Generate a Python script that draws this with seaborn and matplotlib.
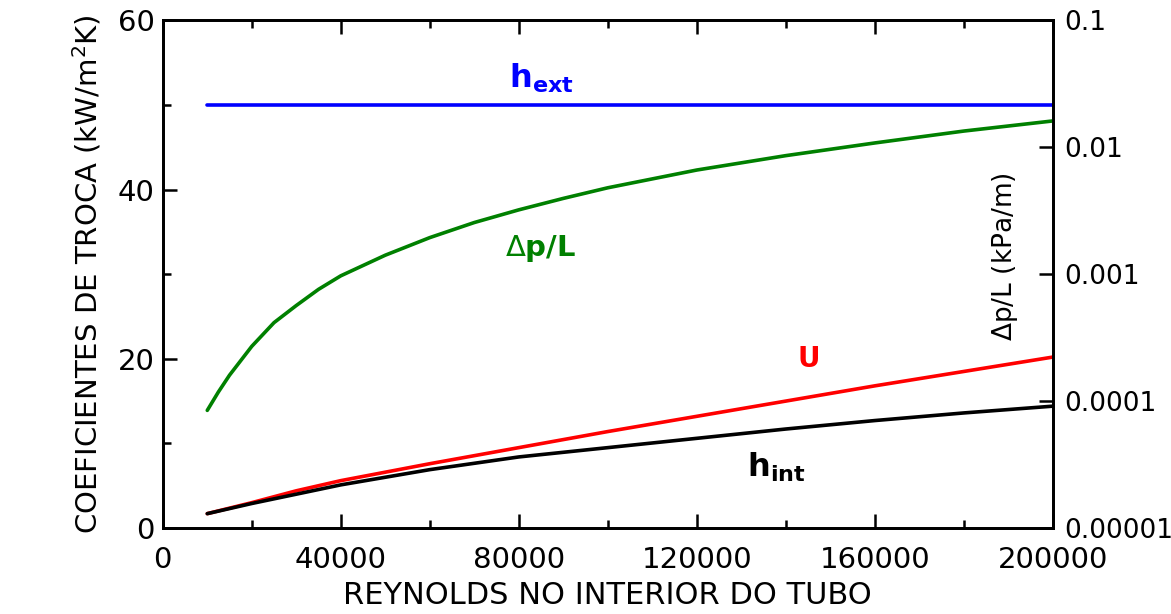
import numpy as np
import pandas as pd
import matplotlib
matplotlib.use("Agg")
import matplotlib.pyplot as plt
import matplotlib.ticker as mticker
import seaborn as sns

# Reynolds number inside the tube
reynolds = [10000, 15000, 20000, 30000, 40000, 50000, 60000, 80000,
            100000, 120000, 140000, 160000, 180000, 200000]

# heat transfer coefficients (kW/m2K)
h_ext = [50, 50, 50, 50, 50, 50, 50, 50, 50, 50, 50, 50, 50, 50]
h_int = [1.7, 2.3, 2.9, 4.0, 5.1, 6.0, 6.9, 8.4, 9.5, 10.6, 11.7, 12.7, 13.6, 14.4]
U = [1.7, 2.35, 3.0, 4.4, 5.6, 6.6, 7.6, 9.5, 11.4, 13.2, 15.0, 16.8, 18.5, 20.2]

# pressure drop per unit length (kPa/m), right log axis
re_dp = [10000, 12500, 15000, 20000, 25000, 30000, 35000, 40000, 50000, 60000,
         70000, 80000, 90000, 100000, 120000, 140000, 160000, 180000, 200000]
dp_L = [8.45e-5, 1.18e-4, 1.60e-4, 2.70e-4, 4.15e-4, 5.66e-4, 7.59e-4, 9.7e-4,
        1.41e-3, 1.94e-3, 2.55e-3, 3.21e-3, 3.95e-3, 4.79e-3, 6.61e-3,
        8.58e-3, 1.08e-2, 1.34e-2, 1.61e-2]

right_ticks = [1e-5, 1e-4, 1e-3, 1e-2, 1e-1]
right_labels = ["0.00001", "0.0001", "0.001", "0.01", "0.1"]

df = pd.DataFrame({"Re": reynolds, "h_ext": h_ext, "h_int": h_int, "U": U})
df_dp = pd.DataFrame({"Re": re_dp, "dp_L": dp_L})

sns.set_style("ticks")
plt.rcParams["font.family"] = ["DejaVu Sans"]
plt.rcParams["mathtext.fontset"] = "dejavusans"
for k in ["text.color", "axes.labelcolor", "xtick.color", "ytick.color", "axes.edgecolor"]:
    plt.rcParams[k] = "black"

fig = plt.figure(figsize=(11.71, 6.14), dpi=100)
ax = fig.add_axes([0.139, 0.140, 0.760, 0.827])
ax2 = ax.twinx()

lw = 2.6
sns.lineplot(data=df, x="Re", y="h_ext", ax=ax, color="#0000ff", linewidth=lw)
sns.lineplot(data=df, x="Re", y="U", ax=ax, color="#ff0000", linewidth=lw)
sns.lineplot(data=df, x="Re", y="h_int", ax=ax, color="#000000", linewidth=lw)
sns.lineplot(data=df_dp, x="Re", y="dp_L", ax=ax2, color="#008000", linewidth=lw)

ax.set_xlim(0, 200000)
ax.set_ylim(0, 60)
ax2.set_yscale("log")
ax2.set_ylim(1e-5, 1e-1)

ax.xaxis.set_major_locator(mticker.MultipleLocator(40000))
ax.xaxis.set_minor_locator(mticker.MultipleLocator(20000))
ax.yaxis.set_major_locator(mticker.MultipleLocator(20))
ax.yaxis.set_minor_locator(mticker.MultipleLocator(10))
ax.tick_params(which="both", direction="in", top=True, right=False, width=1.8, labelsize=21)
ax.tick_params(which="major", length=10)
ax.tick_params(which="minor", length=6)
ax.tick_params(axis="x", pad=13)
ax.tick_params(axis="y", pad=6)

ax2.yaxis.set_major_locator(mticker.FixedLocator(right_ticks))
ax2.yaxis.set_minor_locator(mticker.NullLocator())
ax2.yaxis.set_major_formatter(mticker.FixedFormatter(right_labels))
ax2.tick_params(axis="y", direction="in", length=10, width=1.8, labelsize=19, pad=8)

for a in (ax, ax2):
    for s in a.spines.values():
        s.set_linewidth(2)
        s.set_visible(True)

ax.set_xlabel("REYNOLDS NO INTERIOR DO TUBO", fontsize=22, labelpad=5)
ax.set_ylabel("COEFICIENTES DE TROCA (kW/m$^2$K)", fontsize=21, labelpad=10)
ax2.set_ylabel(r"$\Delta$p/L (kPa/m)", fontsize=19)
ax2.yaxis.set_label_coords(0.93, 0.535)

ax.text(85000, 53.2, r"$\mathbf{h_{ext}}$", color="#0000ff", fontsize=23, ha="center", va="center")
ax.text(85000, 33.0, r"$\Delta\mathbf{p/L}$", color="#008000", fontsize=21, ha="center", va="center")
ax.text(145000, 20.0, r"$\mathbf{U}$", color="#ff0000", fontsize=20, ha="center", va="center")
ax.text(138000, 7.2, r"$\mathbf{h_{int}}$", color="#000000", fontsize=23, ha="center", va="center")

fig.savefig("out.png", dpi=100)
